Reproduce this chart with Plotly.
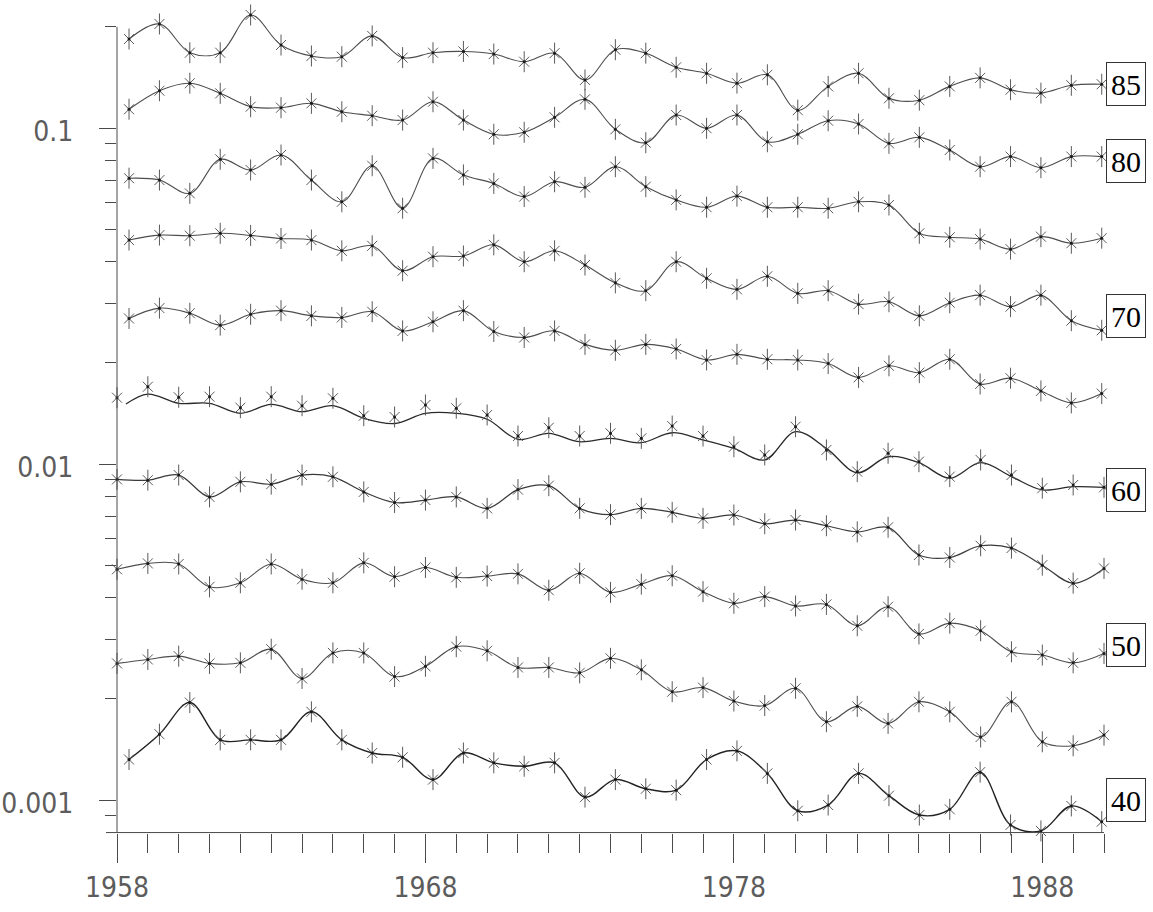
import math
import plotly.graph_objects as go

# ---- data -------------------------------------------------------------
YEARS = list(range(1958, 1991))
# several age groups are recorded slightly later in each year
SHIFTED_YEARS = [round(1958.39 + 0.9855 * k, 3) for k in range(33)]
CURVE_60_YEARS = [1958.29] + list(range(1959, 1991))

AGE_85 = [0.184, 0.204, 0.1675, 0.1675, 0.217, 0.1766, 0.1638, 0.163, 0.188, 0.162, 0.1675,
          0.169, 0.166, 0.1575, 0.167, 0.139, 0.171, 0.167, 0.1516, 0.1455, 0.136, 0.144,
          0.113, 0.133, 0.1455, 0.1226, 0.121, 0.133, 0.141, 0.130, 0.127, 0.134, 0.135]
AGE_80 = [0.1137, 0.1291, 0.1359, 0.1268, 0.1157, 0.1149, 0.1184, 0.1118, 0.1088, 0.1056, 0.1197,
          0.1056, 0.0958, 0.0971, 0.1076, 0.1217, 0.0991, 0.0904, 0.1093, 0.0998, 0.1093, 0.0910,
          0.0958, 0.1051, 0.1028, 0.0900, 0.0938, 0.0860, 0.0767, 0.0822, 0.0762, 0.0822, 0.0822]
AGE_75 = [0.0709, 0.0700, 0.0639, 0.0807, 0.0750, 0.0831, 0.0700, 0.0603, 0.0772, 0.0577, 0.0812,
          0.0725, 0.0684, 0.0625, 0.0692, 0.0666, 0.0767, 0.0669, 0.0611, 0.0581, 0.0627, 0.0581,
          0.0581, 0.0577, 0.0603, 0.0590, 0.0486, 0.0473, 0.0467, 0.0436, 0.0475, 0.0454, 0.0470]
AGE_70 = [0.0464, 0.0480, 0.0478, 0.0486, 0.0479, 0.0469, 0.0464, 0.0431, 0.0446, 0.0376, 0.0414,
          0.0416, 0.0449, 0.0400, 0.0431, 0.0391, 0.0346, 0.0328, 0.0400, 0.0357, 0.0331, 0.0362,
          0.0322, 0.0328, 0.0299, 0.0304, 0.0276, 0.0302, 0.0318, 0.0294, 0.0318, 0.0267, 0.0250]
AGE_65 = [0.0271, 0.0291, 0.0281, 0.0259, 0.0279, 0.0286, 0.0276, 0.0273, 0.0284, 0.0249, 0.0265,
          0.0286, 0.0248, 0.0238, 0.0249, 0.0227, 0.0218, 0.0227, 0.0220, 0.0204, 0.0212, 0.0205,
          0.0204, 0.0199, 0.0181, 0.0196, 0.0187, 0.0205, 0.0173, 0.0180, 0.0165, 0.0152, 0.0162]
AGE_60 = [0.01575, 0.01698, 0.0158, 0.01586, 0.01471, 0.01586, 0.01491, 0.01569, 0.01392, 0.0138,
          0.01498, 0.01465, 0.01399, 0.01211, 0.01282, 0.01211, 0.01234, 0.01192, 0.01297, 0.01211,
          0.01126, 0.01064, 0.01291, 0.01101, 0.00949, 0.01076, 0.01016, 0.00917, 0.01028, 0.00927,
          0.00847, 0.00866, 0.00852]
# fitted curve for age 60 (drawn separately from the observed points)
CURVE_60 = [0.01508, 0.01615, 0.01516, 0.01516, 0.01415, 0.01505, 0.01431, 0.01491, 0.01368, 0.0132,
            0.01415, 0.01415, 0.01359, 0.01184, 0.01234, 0.01165, 0.01192, 0.01157, 0.01239, 0.01179,
            0.01113, 0.01028, 0.01248, 0.01113, 0.00942, 0.01051, 0.01009, 0.00907, 0.01009, 0.00917,
            0.00837, 0.00856, 0.00852]
AGE_55 = [0.00900, 0.00895, 0.00927, 0.00798, 0.00885, 0.00871, 0.00927, 0.00916, 0.00826, 0.00768,
          0.00781, 0.00798, 0.00738, 0.00839, 0.00862, 0.00738, 0.00707, 0.00738, 0.00718, 0.00689,
          0.00705, 0.00664, 0.00681, 0.00655, 0.00628, 0.00648, 0.00536, 0.00527, 0.00571, 0.00562,
          0.00500, 0.00442, 0.00489]
AGE_50 = [0.00486, 0.00506, 0.00504, 0.00431, 0.00443, 0.00504, 0.00454, 0.00443, 0.00508, 0.00462,
          0.00492, 0.00460, 0.00464, 0.00471, 0.00421, 0.00473, 0.00415, 0.00439, 0.00465, 0.00417,
          0.00385, 0.00403, 0.00378, 0.00382, 0.00330, 0.00376, 0.00312, 0.00336, 0.00319, 0.00276,
          0.00270, 0.00256, 0.00273]
AGE_45 = [0.00255, 0.00262, 0.00268, 0.00255, 0.00256, 0.00281, 0.00230, 0.00274, 0.00274, 0.00233,
          0.00250, 0.00286, 0.00278, 0.00248, 0.00248, 0.00239, 0.00264, 0.00244, 0.00210, 0.00216,
          0.00197, 0.00191, 0.00215, 0.00171, 0.00190, 0.00169, 0.00196, 0.00183, 0.00154, 0.00196,
          0.00149, 0.00145, 0.00156]
AGE_40 = [0.00132, 0.00157, 0.00195, 0.00151, 0.00151, 0.00151, 0.00183, 0.00151, 0.00138, 0.00134,
          0.00115, 0.00138, 0.00129, 0.00126, 0.00129, 0.00102, 0.00115, 0.00108, 0.00107, 0.00132,
          0.00140, 0.00120, 0.000929, 0.000966, 0.00120, 0.00103, 0.000902, 0.000938, 0.00121,
          0.000843, 0.000809, 0.000960, 0.000862]

LABEL_AGES = ["85", "80", "70", "60", "50", "40"]
LABEL_LEVELS = [0.135, 0.0797, 0.0276, 0.00837, 0.00289, 0.00100]

Y_MAJOR = [0.001, 0.01, 0.1]
Y_MAJOR_TEXT = ["0.001", "0.01", "0.1"]
Y_MINOR = [0.0009] + [k * 0.001 for k in range(2, 10)] + [k * 0.01 for k in range(2, 10)] + [0.2]
X_MAJOR = [1958, 1968, 1978, 1988]
X_MINOR = [y for y in YEARS if y not in X_MAJOR]

# ---- layout geometry -------------------------------------------------
W, H = 1153, 912
M_L, M_R, M_T, M_B = 117, 49, 6, 79
X_LO, X_HI = 1958, 1990
Y_LO, Y_HI = -3.098214, -0.636905
AXIS_TOP = 0.2
AXIS_BOTTOM = 0.0008

INK = "#4a4a4a"
MARK = "#5a5a5a"
TICK_FONT = dict(family="DejaVu Sans Condensed, Liberation Sans, sans-serif",
                 size=28, color="#5c5c5c")

series = [
    (SHIFTED_YEARS, AGE_85, SHIFTED_YEARS, AGE_85, "#4d4d4d", 1.1),
    (SHIFTED_YEARS, AGE_80, SHIFTED_YEARS, AGE_80, "#4d4d4d", 1.1),
    (SHIFTED_YEARS, AGE_75, SHIFTED_YEARS, AGE_75, "#4d4d4d", 1.1),
    (SHIFTED_YEARS, AGE_70, SHIFTED_YEARS, AGE_70, "#4d4d4d", 1.1),
    (SHIFTED_YEARS, AGE_65, SHIFTED_YEARS, AGE_65, "#4d4d4d", 1.1),
    (YEARS, AGE_60, CURVE_60_YEARS, CURVE_60, "#2a2a2a", 1.3),
    (YEARS, AGE_55, YEARS, AGE_55, "#3a3a3a", 1.2),
    (YEARS, AGE_50, YEARS, AGE_50, "#4d4d4d", 1.1),
    (YEARS, AGE_45, YEARS, AGE_45, "#4d4d4d", 1.1),
    (SHIFTED_YEARS, AGE_40, SHIFTED_YEARS, AGE_40, "#222222", 1.4),
]

fig = go.Figure()
for px_, py_, cx, cy, col, lw in series:
    fig.add_trace(go.Scatter(x=cx, y=cy, mode="lines",
                             line=dict(shape="spline", smoothing=1.0, color=col, width=lw),
                             hoverinfo="skip", showlegend=False))
    fig.add_trace(go.Scatter(x=px_, y=py_, mode="markers", cliponaxis=False,
                             marker=dict(symbol="line-ns-open", size=15, color=MARK,
                                         line=dict(color=MARK, width=1)),
                             hoverinfo="skip", showlegend=False))
    fig.add_trace(go.Scatter(x=px_, y=py_, mode="markers", cliponaxis=False,
                             marker=dict(symbol="x-thin-open", size=10, color=MARK,
                                         line=dict(color=MARK, width=1)),
                             hoverinfo="skip", showlegend=False))
    fig.add_trace(go.Scatter(x=px_, y=py_, mode="markers", cliponaxis=False,
                             marker=dict(symbol="circle", size=3, color="#1a1a1a",
                                         line=dict(width=0)),
                             hoverinfo="skip", showlegend=False))


def y_paper(v):
    return (math.log10(v) - Y_LO) / (Y_HI - Y_LO)


plot_w = W - M_L - M_R
shapes = [
    # vertical axis line up to 0.2
    dict(type="line", xref="paper", yref="paper", x0=0, x1=0,
         y0=y_paper(AXIS_BOTTOM), y1=y_paper(AXIS_TOP), line=dict(color=INK, width=1)),
    # horizontal axis line, slightly overhanging on the left
    dict(type="line", xref="paper", yref="paper", x0=-11 / plot_w, x1=1,
         y0=y_paper(AXIS_BOTTOM), y1=y_paper(AXIS_BOTTOM), line=dict(color=INK, width=1)),
]

annotations = []
for age, lvl in zip(LABEL_AGES, LABEL_LEVELS):
    annotations.append(dict(
        x=1 + 2 / plot_w, xref="paper", xanchor="left",
        y=y_paper(lvl), yref="paper", yanchor="middle",
        text=age, showarrow=False,
        font=dict(family="Liberation Serif, Times New Roman, serif", size=30, color="#000000"),
        bgcolor="white", bordercolor="#333333", borderwidth=1, borderpad=3,
        width=32, height=36,
    ))

fig.update_layout(
    width=W, height=H, autosize=False,
    margin=dict(l=M_L, r=M_R, t=M_T, b=M_B, pad=0, autoexpand=False),
    paper_bgcolor="white", plot_bgcolor="white",
    showlegend=False,
    shapes=shapes, annotations=annotations,
    xaxis=dict(
        range=[X_LO, X_HI], showgrid=False, zeroline=False, showline=False, automargin=False,
        tickmode="array", tickvals=X_MAJOR, ticktext=[str(v) for v in X_MAJOR],
        ticks="outside", ticklen=29, tickwidth=1, tickcolor=INK,
        tickfont=TICK_FONT, ticklabelstandoff=0,
        minor=dict(tickmode="array", tickvals=X_MINOR + [1990], ticks="outside",
                   ticklen=19, tickwidth=1, tickcolor=INK, showgrid=False),
        fixedrange=True,
    ),
    yaxis=dict(
        type="log", range=[Y_LO, Y_HI], showgrid=False, zeroline=False, showline=False,
        automargin=False,
        tickmode="array", tickvals=Y_MAJOR, ticktext=Y_MAJOR_TEXT,
        ticks="outside", ticklen=17, tickwidth=1, tickcolor=INK,
        tickfont=TICK_FONT, ticklabelstandoff=20, ticklabelshift=3,
        minor=dict(tickmode="array", tickvals=Y_MINOR, ticks="outside",
                   ticklen=11, tickwidth=1, tickcolor=INK, showgrid=False),
        fixedrange=True,
    ),
)

fig.write_html("out.html")
